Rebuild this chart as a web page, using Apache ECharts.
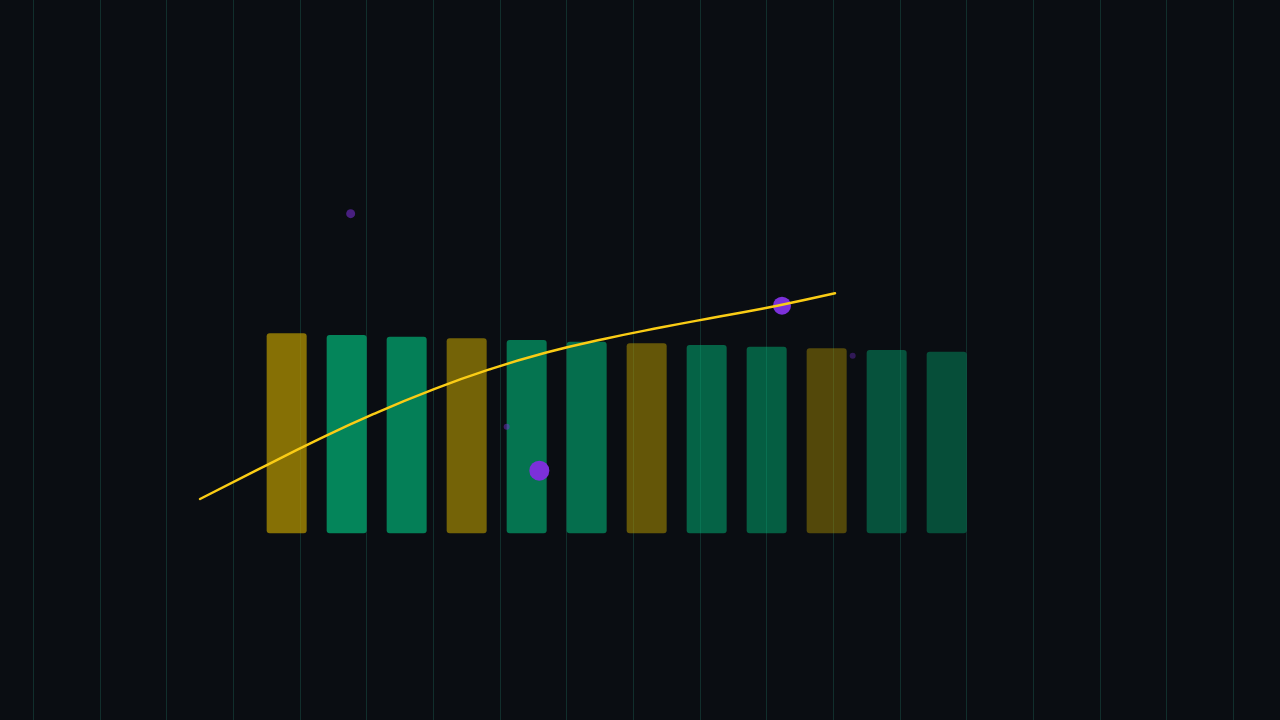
<!DOCTYPE html>
<html>
<head>
<meta charset="utf-8">
<script src="https://cdn.jsdelivr.net/npm/echarts@6/dist/echarts.min.js"></script>
<style>
html,body{margin:0;padding:0;background:#0a0d12;}
#c{width:1280px;height:720px;}
</style>
</head>
<body>
<div id="c"></div>
<script>
// ---- data ----
var barCategories = ['1','2','3','4','5','6','7','8','9','10','11','12'];
var barValues = [120, 119, 118, 117, 116, 115, 114, 113, 112, 111, 110, 109];
var lineCategories = ['1','2','3','4','5','6','7','8','9','10','11','12'];
var lineValues = [20.6, 38.2, 55.5, 71.5, 85.8, 98.2, 108.5, 116.6, 123.6, 130.1, 136.6, 144.0];
var scatterX = [4.76, 7.59, 11.23, 7.10, 12.29];
var scatterY = [191.8, 37.6, 136.6, 64.0, 106.6];
var scatterSize = [9, 20, 18, 6, 6];
var scatterAlpha = [0.55, 1, 1, 0.45, 0.35];

var scatterData = scatterX.map(function (x, i) {
  return { value: [x, scatterY[i], scatterSize[i]], itemStyle: { opacity: scatterAlpha[i] } };
});

var chart = echarts.init(document.getElementById('c'));
chart.setOption({
  backgroundColor: '#0a0d12',
  animation: false,
  grid: [
    { left: 33.333, right: 46.667, top: 0, bottom: 0 },
    { left: 256.667, width: 720, top: 133.333, bottom: 186.667 },
    { left: 200, width: 635, top: 133.333, bottom: 186.667 }
  ],
  xAxis: [
    { type: 'value', gridIndex: 0, min: 0, max: 18, interval: 1,
      axisLine: { show: false }, axisTick: { show: false }, axisLabel: { show: false },
      splitLine: { show: true, lineStyle: { color: 'rgba(45,180,150,0.2)', width: 1 } } },
    { type: 'category', gridIndex: 1, data: barCategories, show: false },
    { type: 'category', gridIndex: 2, data: lineCategories, boundaryGap: false, show: false }
  ],
  yAxis: [
    { type: 'value', gridIndex: 0, min: -112, max: 320, show: false, splitLine: { show: false } },
    { type: 'value', gridIndex: 1, min: 0, max: 240, show: false, splitLine: { show: false } },
    { type: 'value', gridIndex: 2, min: 0, max: 240, show: false, splitLine: { show: false } }
  ],
  series: [
    {
      type: 'bar', xAxisIndex: 1, yAxisIndex: 1, data: barValues, barWidth: 40, z: 2,
      itemStyle: {
        borderRadius: 3,
        color: function (p) {
          var a = (0.70 - p.dataIndex * 0.031).toFixed(3);
          return p.dataIndex % 3 === 0 ? 'rgba(186,155,0,' + a + ')' : 'rgba(1,193,127,' + a + ')';
        }
      }
    },
    {
      type: 'scatter', xAxisIndex: 0, yAxisIndex: 0, data: scatterData, z: 3,
      symbolSize: function (v) { return v[2]; },
      itemStyle: { color: '#7c30da' }
    },
    {
      type: 'line', xAxisIndex: 2, yAxisIndex: 2, data: lineValues, z: 4,
      smooth: true, symbol: 'none',
      lineStyle: { color: '#facc15', width: 2.5, cap: 'round' }
    }
  ]
});
</script>
</body>
</html>
